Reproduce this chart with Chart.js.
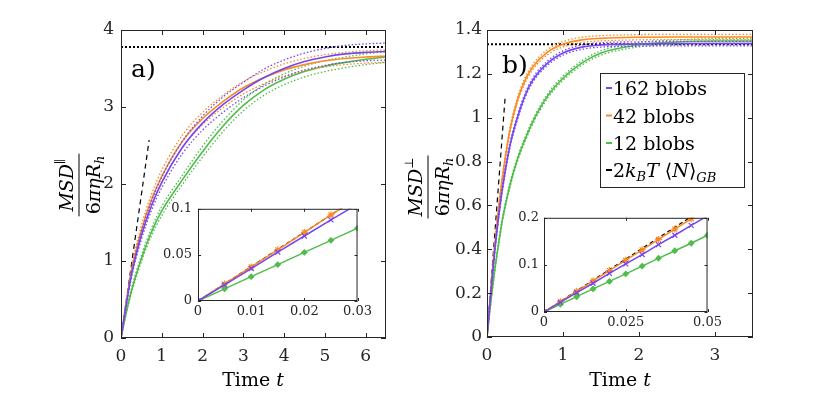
<!DOCTYPE html>
<html>
<head>
<meta charset="utf-8">
<script src="https://cdn.jsdelivr.net/npm/chart.js@4.4.1/dist/chart.umd.min.js"></script>
<style>
  body { margin: 0; background: #fff; }
  #wrap { position: relative; width: 830px; height: 395px; overflow: hidden; background: #fff; }
  canvas { position: absolute; }
</style>
</head>
<body>
<div id="wrap">
  <canvas id="mainA" width="400" height="395" style="left:0;top:0"></canvas>
  <canvas id="mainB" width="435" height="395" style="left:395px;top:0"></canvas>
  <canvas id="insetA" width="215" height="140" style="left:160px;top:195px"></canvas>
  <canvas id="insetB" width="225" height="140" style="left:500px;top:205px"></canvas>
</div>
<script>
// ---- panel a) parallel MSD ----
const T_A = [0, 0.1, 0.25, 0.5, 0.75, 1, 1.5, 2, 2.5, 3, 3.5, 4, 4.5, 5, 5.5, 6, 6.5];
const PAR_162 = [0, 0.34, 0.8, 1.33, 1.72, 2.02, 2.47, 2.79, 3.03, 3.22, 3.38, 3.5, 3.59, 3.65, 3.69, 3.71, 3.72];
const PAR_42 = [0, 0.36, 0.85, 1.4, 1.8, 2.1, 2.55, 2.85, 3.07, 3.25, 3.38, 3.48, 3.55, 3.6, 3.63, 3.65, 3.66];
const PAR_12 = [0, 0.26, 0.6, 1.03, 1.38, 1.65, 2.05, 2.42, 2.75, 3.02, 3.22, 3.36, 3.46, 3.53, 3.58, 3.62, 3.65];
const PAR_BAND_162 = [0, 0.01, 0.03, 0.05, 0.06, 0.07, 0.08, 0.09, 0.1, 0.1, 0.11, 0.11, 0.11, 0.11, 0.11, 0.11, 0.11];
const PAR_BAND_42 = [0, 0.02, 0.04, 0.06, 0.07, 0.08, 0.08, 0.08, 0.08, 0.08, 0.08, 0.08, 0.08, 0.08, 0.08, 0.08, 0.08];
const PAR_BAND_12 = [0, 0.01, 0.03, 0.04, 0.05, 0.06, 0.06, 0.07, 0.07, 0.07, 0.07, 0.07, 0.07, 0.07, 0.07, 0.07, 0.07];
const PAR_SLOPE_T = [0, 0.69];
const PAR_SLOPE = [0, 2.57];
const PAR_PLATEAU = 3.78;

// ---- panel b) perpendicular MSD ----
const T_B = [0, 0.05, 0.1, 0.15, 0.2, 0.3, 0.4, 0.5, 0.6, 0.8, 1, 1.25, 1.5, 2, 2.5, 3, 3.5];
const PERP_162 = [0, 0.2, 0.385, 0.54, 0.67, 0.87, 1.0, 1.1, 1.17, 1.25, 1.295, 1.322, 1.332, 1.336, 1.338, 1.338, 1.338];
const PERP_42 = [0, 0.21, 0.41, 0.58, 0.72, 0.94, 1.08, 1.17, 1.23, 1.3, 1.335, 1.355, 1.362, 1.367, 1.368, 1.368, 1.368];
const PERP_12 = [0, 0.16, 0.3, 0.42, 0.53, 0.69, 0.81, 0.9, 0.98, 1.1, 1.18, 1.25, 1.295, 1.333, 1.345, 1.35, 1.35];
const PERP_BAND_162 = [0, 0.004, 0.006, 0.008, 0.009, 0.01, 0.01, 0.01, 0.01, 0.01, 0.01, 0.01, 0.01, 0.01, 0.01, 0.01, 0.01];
const PERP_BAND_42 = [0, 0.004, 0.006, 0.008, 0.009, 0.01, 0.011, 0.012, 0.012, 0.012, 0.012, 0.012, 0.012, 0.012, 0.012, 0.012, 0.012];
const PERP_BAND_12 = [0, 0.004, 0.006, 0.008, 0.009, 0.01, 0.01, 0.01, 0.01, 0.01, 0.01, 0.01, 0.01, 0.01, 0.01, 0.01, 0.01];
const PERP_SLOPE_T = [0, 0.24];
const PERP_SLOPE = [0, 1.1];
const PERP_PLATEAU = 1.335;

// ---- insets (short times) ----
const T_IN_A = [0, 0.005, 0.01, 0.015, 0.02, 0.025, 0.03];
const IN_A_162 = [0, 0.0175, 0.0352, 0.053, 0.0705, 0.088, 0.105];
const IN_A_42 = [0, 0.0185, 0.037, 0.0555, 0.0745, 0.0935, 0.111];
const IN_A_12 = [0, 0.0132, 0.0264, 0.0395, 0.0527, 0.0658, 0.079];
const IN_A_SLOPE = [0, 0.112];

const T_IN_B = [0, 0.005, 0.01, 0.015, 0.02, 0.025, 0.03, 0.035, 0.04, 0.045, 0.05];
const IN_B_162 = [0, 0.0205, 0.041, 0.061, 0.082, 0.102, 0.122, 0.143, 0.163, 0.184, 0.204];
const IN_B_42 = [0, 0.022, 0.044, 0.066, 0.088, 0.11, 0.132, 0.154, 0.176, 0.198, 0.22];
const IN_B_12 = [0, 0.0163, 0.0325, 0.049, 0.065, 0.081, 0.0975, 0.114, 0.13, 0.146, 0.163];
const IN_B_SLOPE = [0, 0.225];

// ---- ticks ----
const X_TICKS_A = [0, 1, 2, 3, 4, 5, 6];
const Y_TICKS_A = [0, 1, 2, 3, 4];
const X_TICKS_B = [0, 1, 2, 3];
const Y_TICKS_B = [0, 0.2, 0.4, 0.6, 0.8, 1, 1.2, 1.4];
const X_TICKS_IN_A = [0, 0.01, 0.02, 0.03];
const Y_TICKS_IN_A = [0, 0.05, 0.1];
const X_TICKS_IN_B = [0, 0.025, 0.05];
const Y_TICKS_IN_B = [0, 0.1, 0.2];

const LEGEND_LABELS = ['162 blobs', '42 blobs', '12 blobs'];

const FONT = "'DejaVu Serif', serif";
const INK = '#262626';
const PURPLE = '#7546f0';
const ORANGE = '#fa8a22';
const GREEN = '#50bd4a';

Chart.defaults.animation = false;
Chart.defaults.responsive = false;

function pts(xs, ys, band, sign) {
    return xs.map((x, i) => ({ x: x, y: ys[i] + (band ? sign * band[i] : 0) }));
}

function line(data, color, extra) {
    return Object.assign({
        data: data,
        borderColor: color,
        backgroundColor: color,
        borderWidth: 1.6,
        pointRadius: 0,
        cubicInterpolationMode: 'monotone',
        fill: false,
    }, extra || {});
}

function withBands(xs, ys, band, color) {
    const dotted = { borderWidth: 1.3, borderDash: [1.5, 2] };
    return [
        line(pts(xs, ys, band, 1), color, dotted),
        line(pts(xs, ys, band, -1), color, dotted),
        line(pts(xs, ys), color),
    ];
}

function axes(o) {
    const tickFont = { family: FONT, size: o.fs };
    return {
        x: {
            type: 'linear', min: o.xMin, max: o.xMax,
            afterBuildTicks: s => { s.ticks = o.xTicks.map(v => ({ value: v })); },
            afterFit: s => { s.height = o.xH; },
            grid: { display: false, drawTicks: false },
            border: { display: false },
            ticks: { color: INK, font: tickFont, padding: o.xPad, maxRotation: 0, autoSkip: false, callback: v => String(v) }
        },
        y: {
            type: 'linear', min: o.yMin, max: o.yMax,
            afterBuildTicks: s => { s.ticks = o.yTicks.map(v => ({ value: v })); },
            afterFit: s => { s.width = o.yW; },
            grid: { display: false, drawTicks: false },
            border: { display: false },
            ticks: { color: INK, font: tickFont, padding: o.yPad, autoSkip: false, callback: v => String(v) }
        }
    };
}

// box with inward ticks on all four sides, MATLAB style
const framePlugin = {
    id: 'frame',
    beforeDatasetsDraw(chart, args, opts) {
        if (!opts.fill) return;
        const a = chart.chartArea;
        chart.ctx.save();
        chart.ctx.fillStyle = '#fff';
        chart.ctx.fillRect(a.left, a.top, a.width, a.height);
        chart.ctx.restore();
    },
    afterDraw(chart, args, opts) {
        const { ctx, chartArea: a, scales } = chart;
        const L = opts.len || 5;
        ctx.save();
        ctx.strokeStyle = INK;
        ctx.lineWidth = 1;
        ctx.beginPath();
        scales.x.ticks.forEach(t => {
            const px = Math.round(scales.x.getPixelForValue(t.value)) + 0.5;
            ctx.moveTo(px, a.bottom); ctx.lineTo(px, a.bottom - L);
            ctx.moveTo(px, a.top); ctx.lineTo(px, a.top + L);
        });
        scales.y.ticks.forEach(t => {
            const py = Math.round(scales.y.getPixelForValue(t.value)) + 0.5;
            ctx.moveTo(a.left, py); ctx.lineTo(a.left + L, py);
            ctx.moveTo(a.right, py); ctx.lineTo(a.right - L, py);
        });
        ctx.stroke();
        ctx.strokeRect(a.left + 0.5, a.top + 0.5, a.width - 1, a.height - 1);
        ctx.restore();
    }
};

function fontOf(p) {
    return (p.it ? 'italic ' : '') + (p.sz || 19) + 'px ' + FONT;
}

function rich(ctx, parts, x, y, align) {
    let w = 0;
    parts.forEach(p => { ctx.font = fontOf(p); p.w = ctx.measureText(p.t).width; w += p.w; });
    let cx = align === 'center' ? x - w / 2 : x;
    parts.forEach(p => {
        ctx.font = fontOf(p);
        ctx.fillText(p.t, cx, y + (p.dy || 0));
        cx += p.w;
    });
    return w;
}

function yFraction(ctx, lineX, cy, sym) {
    ctx.save();
    ctx.translate(lineX, cy);
    ctx.rotate(-Math.PI / 2);
    ctx.fillStyle = '#000';
    ctx.textBaseline = 'alphabetic';
    const wn = rich(ctx, [{ t: 'MSD', it: true }, { t: sym, sz: 12, dy: -9 }], 0, -6, 'center');
    const wd = rich(ctx, [{ t: '6', }, { t: 'πηR', it: true }, { t: 'h', it: true, sz: 13, dy: 4 }], 0, 21, 'center');
    const half = Math.max(wn, wd) / 2 + 2;
    ctx.fillRect(-half, -0.5, half * 2, 1);
    ctx.restore();
}

function timeLabel(ctx, cx, y) {
    ctx.save();
    ctx.fillStyle = '#000';
    ctx.textBaseline = 'alphabetic';
    rich(ctx, [{ t: 'Time ' }, { t: 't', it: true }], cx, y, 'center');
    ctx.restore();
}

function panelTag(ctx, txt, x, y) {
    ctx.save();
    ctx.fillStyle = '#000';
    ctx.textBaseline = 'middle';
    ctx.font = '25px ' + FONT;
    ctx.fillText(txt, x, y);
    ctx.restore();
}

function drawLegend(ctx, x, y, w, h) {
    ctx.save();
    ctx.fillStyle = '#fff';
    ctx.fillRect(x, y, w, h);
    ctx.strokeStyle = INK;
    ctx.lineWidth = 1;
    ctx.strokeRect(x + 0.5, y + 0.5, w, h);
    const rowY = [y + 15, y + 42.5, y + 70, y + 97];
    const colors = [PURPLE, ORANGE, GREEN, '#000'];
    ctx.textBaseline = 'alphabetic';
    rowY.forEach((ry, i) => {
        ctx.fillStyle = colors[i];
        ctx.fillRect(x + 6, ry - 1, 6, 2);
        ctx.fillStyle = '#000';
        if (i < 3) {
            rich(ctx, [{ t: LEGEND_LABELS[i] }], x + 13, ry + 7, 'left');
        } else {
            rich(ctx, [
                { t: '2' }, { t: 'k', it: true }, { t: 'B', it: true, sz: 13, dy: 4 },
                { t: 'T', it: true }, { t: ' \u27E8' }, { t: 'N', it: true }, { t: '\u27E9' },
                { t: 'GB', it: true, sz: 13, dy: 5 }
            ], x + 13, ry + 7, 'left');
        }
    });
    ctx.restore();
}

// ---- main panel a ----
new Chart(document.getElementById('mainA'), {
    type: 'line',
    data: {
        datasets: [
            ...withBands(T_A, PAR_162, PAR_BAND_162, PURPLE),
            ...withBands(T_A, PAR_42, PAR_BAND_42, ORANGE),
            ...withBands(T_A, PAR_12, PAR_BAND_12, GREEN),
            line(pts(PAR_SLOPE_T, PAR_SLOPE), '#000', { borderWidth: 1.2, borderDash: [5, 4], cubicInterpolationMode: 'default' }),
            line([{ x: 0, y: PAR_PLATEAU }, { x: 6.5, y: PAR_PLATEAU }], '#000', { borderWidth: 2, borderDash: [2, 2] }),
        ]
    },
    options: {
        layout: { padding: { left: 0, right: 14, top: 30, bottom: 0 } },
        scales: axes({ xMin: 0, xMax: 6.5, xTicks: X_TICKS_A, yMin: 0, yMax: 4, yTicks: Y_TICKS_A, xH: 57, yW: 121, fs: 17, xPad: 8, yPad: 7 }),
        plugins: { legend: { display: false }, tooltip: { enabled: false }, frame: { len: 5 } }
    },
    plugins: [framePlugin, {
        id: 'textA',
        afterDraw(chart) {
            const ctx = chart.ctx;
            yFraction(ctx, 79, 185, '\u2225');
            timeLabel(ctx, 253, 386);
            panelTag(ctx, 'a)', 131, 70);
        }
    }]
});

// ---- main panel b ----
new Chart(document.getElementById('mainB'), {
    type: 'line',
    data: {
        datasets: [
            ...withBands(T_B, PERP_162, PERP_BAND_162, PURPLE),
            ...withBands(T_B, PERP_42, PERP_BAND_42, ORANGE),
            ...withBands(T_B, PERP_12, PERP_BAND_12, GREEN),
            line(pts(PERP_SLOPE_T, PERP_SLOPE), '#000', { borderWidth: 1.2, borderDash: [5, 4], cubicInterpolationMode: 'default' }),
            line([{ x: 0, y: PERP_PLATEAU }, { x: 3.5, y: PERP_PLATEAU }], '#000', { borderWidth: 2, borderDash: [2, 2] }),
        ]
    },
    options: {
        layout: { padding: { left: 0, right: 77, top: 30, bottom: 0 } },
        scales: axes({ xMin: 0, xMax: 3.5, xTicks: X_TICKS_B, yMin: 0, yMax: 1.4, yTicks: Y_TICKS_B, xH: 58, yW: 92, fs: 17, xPad: 8, yPad: 5 }),
        plugins: { legend: { display: false }, tooltip: { enabled: false }, frame: { len: 5 } }
    },
    plugins: [framePlugin, {
        id: 'textB',
        afterDraw(chart) {
            const ctx = chart.ctx;
            yFraction(ctx, 33, 187, '\u22A5');
            timeLabel(ctx, 225, 386);
            panelTag(ctx, 'b)', 107, 66);
            drawLegend(ctx, 205, 73, 144, 114);
        }
    }]
});

// ---- insets ----
function insetSets(xs, s162, s42, s12, slope) {
    const m = { borderWidth: 1.5, pointRadius: 3.5, pointBorderWidth: 1.2, cubicInterpolationMode: 'default' };
    return [
        line(pts(xs, s162), PURPLE, Object.assign({ pointStyle: 'crossRot' }, m)),
        line(pts(xs, s12), GREEN, Object.assign({}, m, { pointStyle: 'rectRot', pointRadius: 2.6 })),
        line(pts(xs, s42), ORANGE, Object.assign({ pointStyle: 'star' }, m)),
        line([{ x: 0, y: 0 }, { x: xs[xs.length - 1], y: slope[1] }], '#000', { borderWidth: 1.2, borderDash: [4, 3], cubicInterpolationMode: 'default' }),
    ];
}

new Chart(document.getElementById('insetA'), {
    type: 'line',
    data: { datasets: insetSets(T_IN_A, IN_A_162, IN_A_42, IN_A_12, IN_A_SLOPE) },
    options: {
        layout: { padding: { left: 0, right: 12, top: 8, bottom: 0 } },
        scales: axes({ xMin: 0, xMax: 0.03, xTicks: X_TICKS_IN_A, yMin: 0, yMax: 0.1, yTicks: Y_TICKS_IN_A, xH: 34, yW: 38, fs: 13, xPad: 3, yPad: 6 }),
        plugins: { legend: { display: false }, tooltip: { enabled: false }, frame: { len: 3, fill: true } }
    },
    plugins: [framePlugin]
});

new Chart(document.getElementById('insetB'), {
    type: 'line',
    data: { datasets: insetSets(T_IN_B, IN_B_162, IN_B_42, IN_B_12, IN_B_SLOPE) },
    options: {
        layout: { padding: { left: 0, right: 14, top: 9, bottom: 0 } },
        scales: axes({ xMin: 0, xMax: 0.05, xTicks: X_TICKS_IN_B, yMin: 0, yMax: 0.2, yTicks: Y_TICKS_IN_B, xH: 33, yW: 44, fs: 13, xPad: 3, yPad: 5 }),
        plugins: { legend: { display: false }, tooltip: { enabled: false }, frame: { len: 3, fill: true } }
    },
    plugins: [framePlugin]
});
</script>
</body>
</html>
